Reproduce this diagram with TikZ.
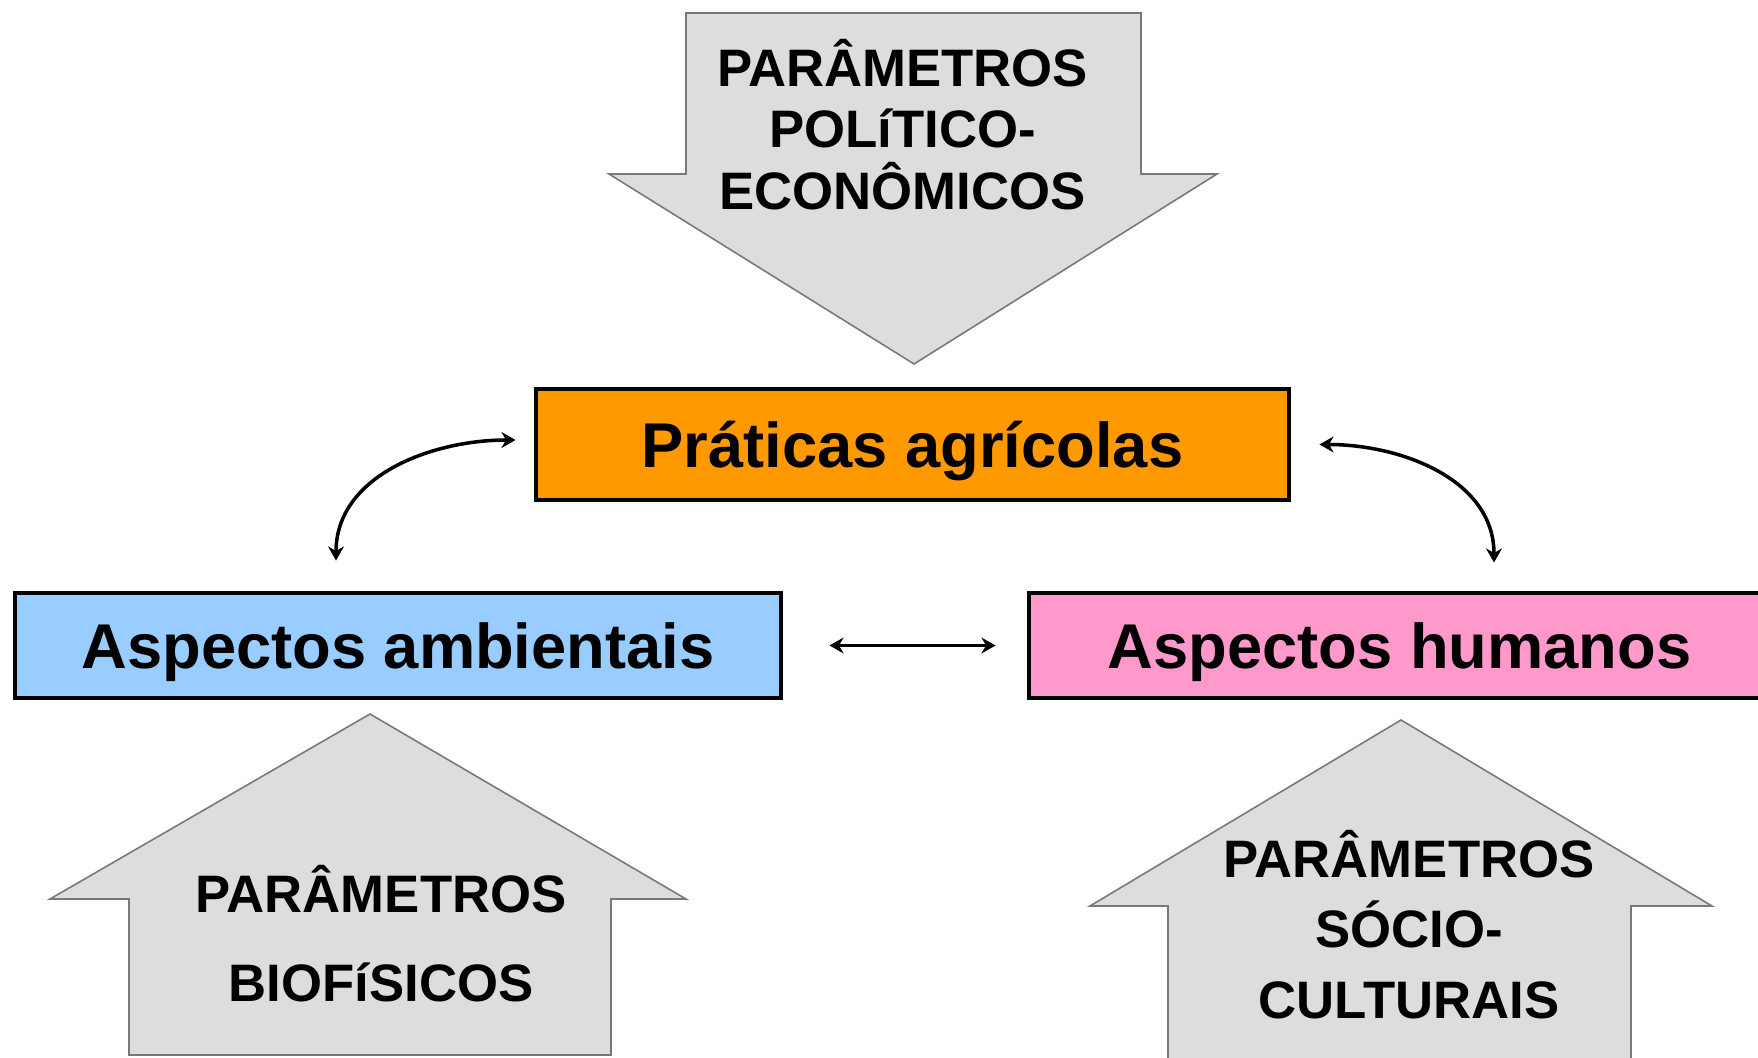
\documentclass[tikz,border=0pt]{standalone}
\usepackage{fontspec}
\setmainfont{Liberation Sans}
\usepackage{tikz}
\usetikzlibrary{arrows,arrows.meta,positioning}
\usepackage{xcolor}
\definecolor{pagorange}{RGB}{255,153,0}
\definecolor{pagblue}{RGB}{153,204,255}
\definecolor{pagpink}{RGB}{255,153,204}
\definecolor{pagfill}{RGB}{221,221,221}
\definecolor{pagline}{RGB}{120,120,120}
\tikzstyle{aspect} = [draw=black,line width=2.8pt,minimum height=2.1cm,text depth=0pt,font=\fontsize{36}{40}\selectfont\bfseries]
\tikzstyle{paramarrow} = [fill=pagfill,draw=pagline,line width=0.9pt,line join=miter]
\tikzstyle{paramtext} = [align=center,font=\fontsize{30}{35}\selectfont\bfseries]
\tikzstyle{link} = [line width=2pt,<->,>={Stealth[length=8pt,width=9pt]},color=black]

\begin{document}
\begin{tikzpicture}
\useasboundingbox (0,0) rectangle (35.16,21.16);
\clip (0,0) rectangle (35.16,21.16);

% Grey arrows
\draw[paramarrow] (13.72,20.90) -- (22.82,20.90) -- (22.82,17.68) -- (24.34,17.68) -- (18.28,13.88) -- (12.18,17.68) -- (13.72,17.68) -- cycle;
\draw[paramarrow] (2.58,0.06) -- (2.58,3.18) -- (1.00,3.18) -- (7.40,6.88) -- (13.72,3.18) -- (12.22,3.18) -- (12.22,0.06) -- cycle;
\draw[paramarrow] (23.36,-0.5) -- (23.36,3.04) -- (21.80,3.04) -- (28.02,6.76) -- (34.24,3.04) -- (32.62,3.04) -- (32.62,-0.5) -- cycle;

% Arrow labels
\node[paramtext] (polit) at (18.05,18.67) {PARÂMETROS\\POLíTICO-\\ECONÔMICOS};
\node[paramtext] (biof) at (7.62,2.49) {PARÂMETROS\\[16pt]BIOFíSICOS};
\node[paramtext, font=\fontsize{30}{40}\selectfont\bfseries] (socio) at (28.18,2.67) {PARÂMETROS\\SÓCIO-\\CULTURAIS};

% Boxes
\node[aspect, fill=pagorange, minimum width=15.06cm, minimum height=2.22cm] (prat) at (18.25,12.27) {Práticas agrícolas};
\node[aspect, fill=pagblue, minimum width=15.32cm] (amb) at (7.96,8.25) {Aspectos ambientais};
\node[aspect, fill=pagpink, minimum width=14.82cm] (hum) at (27.99,8.25) {Aspectos humanos};

% Links
\draw[link] ([xshift=-1.24cm,yshift=0.6cm]amb.north) to[out=90,in=180] ([xshift=-0.36cm,yshift=0.09cm]prat.west);
\draw[link] ([xshift=0.56cm]prat.east) to[out=0,in=90] ([xshift=1.89cm,yshift=0.56cm]hum.north);
\draw[link, line width=1.7pt, shorten <=0.92cm, shorten >=0.62cm] (amb.east) -- (hum.west);
\end{tikzpicture}
\end{document}
